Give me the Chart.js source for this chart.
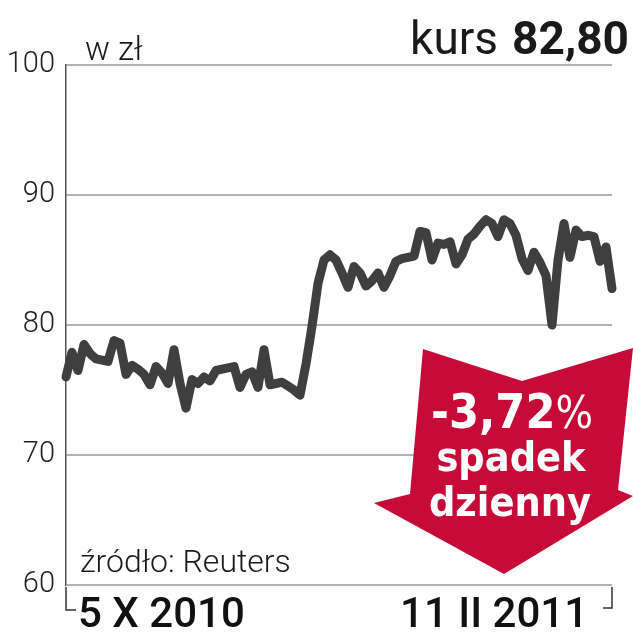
<!DOCTYPE html>
<html lang="pl">
<head>
<meta charset="UTF-8">
<title>kurs 82,80</title>
<script src="https://cdn.jsdelivr.net/npm/chart.js"></script>
<style>
  html, body { margin: 0; padding: 0; background: #fff; }
  #wrap { width: 633px; height: 640px; position: relative; }
</style>
</head>
<body>
<div id="wrap"><canvas id="kurs"></canvas></div>
<script>
// notowania od 5 X 2010 do 11 II 2011
const prices = [
  76.0, 77.9, 76.5, 78.5, 77.8, 77.4, 77.3, 77.2, 78.8, 78.6,
  76.2, 76.9, 76.6, 76.2, 75.4, 76.8, 76.3, 75.5, 78.1, 75.5,
  73.6, 75.8, 75.5, 76.0, 75.7, 76.5, 76.6, 76.7, 76.8, 75.2,
  76.2, 76.4, 75.2, 78.1, 75.4, 75.5, 75.6, 75.3, 75.0, 74.6,
  77.0, 79.9, 83.2, 85.0, 85.4, 85.0, 84.0, 82.9, 84.5, 84.0,
  83.0, 83.4, 84.0, 82.9, 83.8, 84.9, 85.1, 85.2, 85.3, 87.2,
  87.1, 85.0, 86.3, 86.2, 86.4, 84.7, 85.4, 86.6, 87.0, 87.6,
  88.1, 87.8, 86.8, 88.1, 87.8, 86.9, 85.1, 84.2, 85.6, 84.8,
  83.8, 80.0, 85.0, 87.8, 85.2, 87.3, 86.8, 86.9, 86.8, 84.9,
  86.0, 82.8
];
const dateLabels = ['5 X 2010', '11 II 2011'];
const yTicks = [60, 70, 80, 90, 100];
const changeText = ['-3,72', '%', 'spadek', 'dzienny'];

const labels = prices.map((p, i) => String(i));

const decor = {
  id: 'decor',
  afterDraw(chart) {
    const ctx = chart.ctx;
    const a = chart.chartArea;
    ctx.save();

    // naglowki
    ctx.fillStyle = '#1a1a1a';
    ctx.textBaseline = 'alphabetic';
    ctx.textAlign = 'left';
    ctx.font = '300 33px Roboto, sans-serif';
    ctx.fillText('w zł', 85, 60);
    ctx.textAlign = 'right';
    ctx.font = 'bold 46px Roboto, sans-serif';
    ctx.fillText('82,80', 629, 54);
    const w = ctx.measureText('82,80').width;
    ctx.font = '46px Roboto, sans-serif';
    ctx.fillText('kurs', 629 - w - 14, 54);

    // zrodlo
    ctx.textAlign = 'left';
    ctx.font = '300 32px Roboto, sans-serif';
    ctx.fillText('źródło: Reuters', 80, 572);

    // nawiasy pod osia
    ctx.strokeStyle = '#333';
    ctx.lineWidth = 1.5;
    ctx.beginPath();
    ctx.moveTo(a.left, a.bottom + 2);
    ctx.lineTo(a.left, 610);
    ctx.lineTo(a.left + 10, 610);
    ctx.moveTo(a.right, a.bottom + 2);
    ctx.lineTo(a.right, 608);
    ctx.lineTo(a.right - 9, 608);
    ctx.stroke();

    // daty
    ctx.fillStyle = '#111';
    ctx.font = '500 42px Roboto, sans-serif';
    ctx.textAlign = 'left';
    ctx.fillText(dateLabels[0], 78, 627);
    ctx.textAlign = 'right';
    ctx.fillText(dateLabels[1], 588, 627);

    // czerwona strzalka
    ctx.fillStyle = '#c60b38';
    ctx.beginPath();
    ctx.moveTo(423, 349);
    ctx.lineTo(522, 381);
    ctx.lineTo(633, 348);
    ctx.lineTo(618, 490);
    ctx.lineTo(633, 496);
    ctx.lineTo(504, 574);
    ctx.lineTo(374, 503);
    ctx.lineTo(410, 494);
    ctx.closePath();
    ctx.fill();

    ctx.fillStyle = '#fff';
    ctx.textAlign = 'left';
    ctx.font = 'bold 48px "DejaVu Sans Condensed", sans-serif';
    const w1 = ctx.measureText(changeText[0]).width;
    ctx.font = '44px "DejaVu Sans Condensed", sans-serif';
    const w2 = ctx.measureText(changeText[1]).width;
    let x0 = 512 - (w1 + w2) / 2;
    ctx.font = 'bold 48px "DejaVu Sans Condensed", sans-serif';
    ctx.fillText(changeText[0], x0, 428);
    ctx.font = '44px "DejaVu Sans Condensed", sans-serif';
    ctx.fillText(changeText[1], x0 + w1, 428);
    ctx.textAlign = 'center';
    ctx.font = 'bold 41px "DejaVu Sans Condensed", sans-serif';
    ctx.fillText(changeText[2], 511, 471);
    ctx.fillText(changeText[3], 510, 516);

    ctx.restore();
  }
};

new Chart(document.getElementById('kurs'), {
  type: 'line',
  data: {
    labels: labels,
    datasets: [{
      data: prices,
      borderColor: '#3f3f3f',
      borderWidth: 9,
      borderJoinStyle: 'round',
      borderCapStyle: 'round',
      pointRadius: 0,
      tension: 0,
      fill: false,
      clip: false
    }]
  },
  options: {
    responsive: true,
    maintainAspectRatio: false,
    animation: false,
    events: [],
    layout: { padding: { top: 65, right: 21, bottom: 55, left: 0 } },
    plugins: {
      legend: { display: false },
      tooltip: { enabled: false }
    },
    scales: {
      x: {
        display: false,
        offset: false
      },
      y: {
        min: 60,
        max: 100,
        afterBuildTicks(axis) {
          axis.ticks = yTicks.map(v => ({ value: v }));
        },
        afterFit(axis) { axis.width = 66; },
        grid: {
          color: '#b3b3b3',
          lineWidth: 2,
          drawTicks: false
        },
        border: { display: true, color: '#555', width: 1.5 },
        ticks: {
          padding: 11,
          color: '#222',
          font: { family: 'Roboto', weight: '300', size: 29 }
        }
      }
    }
  },
  plugins: [decor]
});
</script>
</body>
</html>
